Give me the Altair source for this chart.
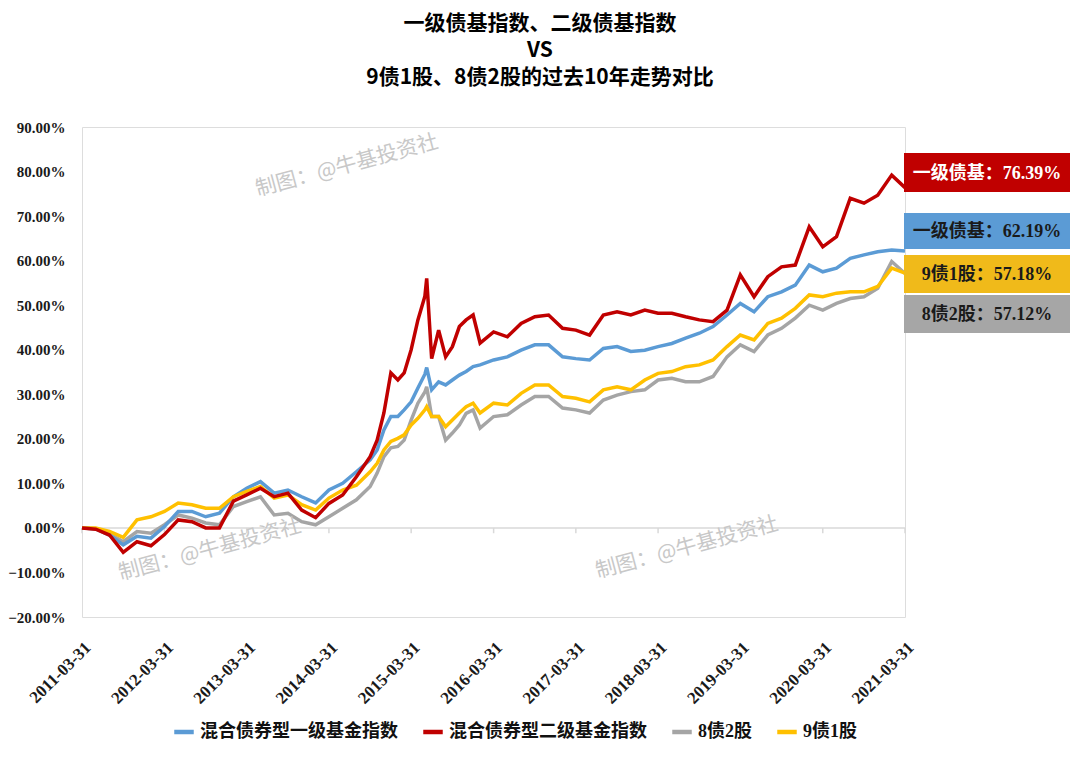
import altair as alt
import pandas as pd

# ---------------- data (% return) ----------------
dates = [
    "2011-03-31", "2011-05-31", "2011-07-31", "2011-09-30", "2011-11-30",
    "2012-01-31", "2012-03-31", "2012-05-31", "2012-07-31", "2012-09-30", "2012-11-30",
    "2013-01-31", "2013-03-31", "2013-05-31", "2013-07-31", "2013-09-30", "2013-11-30",
    "2014-01-31", "2014-03-31", "2014-05-31", "2014-07-31", "2014-09-30", "2014-10-31",
    "2014-11-30", "2014-12-31",
    "2015-01-31", "2015-02-28", "2015-03-31", "2015-04-30", "2015-05-31", "2015-06-08",
    "2015-06-30", "2015-07-31", "2015-08-31", "2015-09-30", "2015-10-31", "2015-11-30",
    "2015-12-31",
    "2016-01-31", "2016-03-31", "2016-05-31", "2016-07-31", "2016-09-30", "2016-11-30",
    "2017-01-31", "2017-03-31", "2017-05-31", "2017-07-31", "2017-09-30", "2017-11-30",
    "2018-01-31", "2018-03-31", "2018-05-31", "2018-07-31", "2018-09-30", "2018-11-30",
    "2019-01-31", "2019-03-31", "2019-05-31", "2019-07-31", "2019-09-30", "2019-11-30",
    "2020-01-31", "2020-03-31", "2020-05-31", "2020-07-31", "2020-09-30", "2020-11-30",
    "2021-01-31", "2021-03-31",
]

yiji = [  # 混合债券型一级基金指数
    0.0, -0.2, -1.6, -3.8, -1.9,
    -2.3, 0.3, 3.7, 3.7, 2.5, 3.3,
    7.0, 8.9, 10.4, 7.8, 8.5, 7.0,
    5.6, 8.5, 10.0, 12.6, 15.3, 17.5,
    22.0, 25.0,
    25.0, 26.5, 28.3, 31.4, 34.5, 36.0,
    31.0, 32.8, 32.1, 33.2, 34.3, 35.1,
    36.2,
    36.6, 37.7, 38.4, 39.9, 41.1, 41.1,
    38.4, 38.0, 37.7, 40.3, 40.7, 39.6,
    39.9, 40.7, 41.4, 42.6, 43.7, 45.2,
    47.8, 50.4, 48.5, 51.9, 53.0, 54.5,
    59.0, 57.5, 58.3, 60.5, 61.3, 62.0,
    62.4, 62.19,
]

erji = [  # 混合债券型二级基金指数
    0.0, -0.3, -1.6, -5.5, -3.1,
    -4.0, -1.5, 1.8, 1.4, 0.0, 0.0,
    6.0, 7.4, 8.9, 7.0, 7.8, 4.0,
    2.3, 5.5, 7.4, 11.5, 16.0, 19.7,
    25.8, 34.8,
    33.2, 34.8, 40.0, 46.7, 52.0, 56.0,
    38.0, 44.4, 38.4, 40.7, 45.2, 46.7,
    47.8,
    41.5, 44.0, 42.9, 45.9, 47.4, 47.8,
    44.8, 44.4, 43.3, 47.8, 48.5, 47.8,
    48.9, 48.2, 48.2, 47.4, 46.7, 46.3,
    48.9, 56.8, 51.9, 56.4, 58.6, 59.0,
    67.6, 63.1, 65.4, 74.0, 72.9, 74.7,
    79.2, 76.39,
]

zhai8gu2 = [  # 8债2股
    0.0, -0.2, -1.3, -3.1, -0.8,
    -1.2, 0.7, 2.9, 2.2, 1.1, 0.7,
    4.8, 5.9, 7.0, 2.9, 3.3, 1.4,
    0.7, 2.5, 4.4, 6.3, 9.3, 12.3,
    16.0, 18.0,
    18.3, 19.7, 24.2, 28.0, 30.5, 31.7,
    25.0, 25.0, 19.7, 21.3, 23.1, 25.7,
    26.5,
    22.4, 25.0, 25.4, 27.6, 29.5, 29.5,
    26.9, 26.5, 25.8, 28.7, 29.8, 30.6,
    31.0, 33.2, 33.6, 32.8, 32.8, 34.0,
    38.4, 41.1, 39.6, 43.3, 44.8, 47.1,
    50.0, 48.9, 50.4, 51.5, 51.9, 53.8,
    59.8, 57.12,
]

zhai9gu1 = [  # 9债1股
    0.0, 0.0, -0.8, -2.1, 1.8,
    2.5, 3.7, 5.6, 5.2, 4.4, 4.4,
    7.0, 8.2, 9.3, 6.7, 7.4, 5.2,
    4.0, 6.7, 8.5, 9.6, 12.6, 14.5,
    17.5, 19.4,
    20.1, 20.9, 23.1, 24.6, 26.5, 27.2,
    25.0, 25.0, 22.7, 24.2, 25.8, 27.2,
    28.0,
    25.8, 28.0, 27.6, 30.2, 32.1, 32.1,
    29.5, 29.1, 28.3, 31.0, 31.7, 31.0,
    33.2, 34.7, 35.1, 36.2, 36.6, 37.7,
    40.7, 43.3, 42.2, 45.9, 47.1, 49.3,
    52.3, 51.9, 52.7, 53.0, 53.0, 54.2,
    58.3, 57.18,
]

series_names = ["混合债券型一级基金指数", "混合债券型二级基金指数", "8债2股", "9债1股"]
series_colors = ["#5B9BD5", "#C00000", "#A5A5A5", "#FFC000"]

tick_dates = ["%d-03-31" % y for y in range(2011, 2022)]
y_ticks = list(range(-20, 100, 10))

end_labels = ["一级债基：76.39%", "一级债基：62.19%", "9债1股：57.18%", "8债2股：57.12%"]
end_fills = ["#C00000", "#5B9BD5", "#F0BA1A", "#A6A6A6"]
end_text_colors = ["#FFFFFF", "#1A1A1A", "#1A1A1A", "#1A1A1A"]

title_lines = ["一级债基指数、二级债基指数", "VS", "9债1股、8债2股的过去10年走势对比"]
watermark = "制图：@牛基投资社"

# ---------------- build table ----------------
draw_order = [
    ("8债2股", zhai8gu2),
    ("混合债券型一级基金指数", yiji),
    ("9债1股", zhai9gu1),
    ("混合债券型二级基金指数", erji),
]
rows = []
for name, vals in draw_order:
    for d, v in zip(dates, vals):
        rows.append({"date": d, "value": v, "series": name})
df = pd.DataFrame(rows)

W, H = 823, 490
SERIF = "Liberation Serif, 'Noto Sans CJK SC'"
CJK = "Noto Sans CJK SC"

x_scale = alt.Scale(
    type="utc",
    domain=[alt.DateTime(year=2011, month=3, date=31, utc=True),
            alt.DateTime(year=2021, month=3, date=31, utc=True)],
    nice=False,
)
y_scale = alt.Scale(domain=[-20, 90], nice=False)

lines = alt.Chart(df).mark_line(strokeWidth=3.5).encode(
    x=alt.X(
        "date:T", scale=x_scale, title=None,
        axis=alt.Axis(
            values=[alt.DateTime(year=y, month=3, date=31, utc=True) for y in range(2011, 2022)],
            labelExpr="utcFormat(datum.value, '%Y-%m-%d')", labelAngle=-45,
            labelFont="Liberation Serif", labelFontSize=17, labelFontWeight="bold",
            labelColor="#1A1A1A", labelPadding=22, domain=False, ticks=False,
            tickSize=0, grid=False, labelOverlap=False, labelFlush=False,
        ),
    ),
    y=alt.Y(
        "value:Q", scale=y_scale, title=None,
        axis=alt.Axis(
            values=y_ticks, labelExpr="format(datum.value, '.2f') + '%'",
            labelFont="Liberation Serif", labelFontSize=15, labelFontWeight="bold",
            labelColor="#1A1A1A", labelPadding=17, domain=False, ticks=False,
            tickSize=0, grid=False,
        ),
    ),
    color=alt.Color(
        "series:N",
        scale=alt.Scale(domain=series_names, range=series_colors),
        legend=alt.Legend(
            title=None, orient="none", legendX=90, legendY=593, direction="horizontal",
            columns=4, symbolType="stroke", symbolStrokeWidth=4.5, symbolSize=380,
            labelFont=SERIF, labelFontSize=18, labelFontWeight="bold",
            labelColor="#111111", columnPadding=16, labelOffset=4, labelLimit=400,
        ),
    ),
)

zero_line = alt.Chart(pd.DataFrame({"y": [0]})).mark_rule(
    color="#D9D9D9", strokeWidth=1.5
).encode(y=alt.Y("y:Q", scale=y_scale))

ticks = alt.Chart(pd.DataFrame({"date": tick_dates})).mark_rule(
    color="#D9D9D9", strokeWidth=1.5
).encode(
    x=alt.X("date:T", scale=x_scale),
    y=alt.datum(0),
    y2=alt.datum(-1.2),
)

layers = [zero_line, ticks, lines]

# title: three centred lines above the plot
for line, ty in zip(title_lines, [-103, -76, -49]):
    layers.append(
        alt.Chart(pd.DataFrame({"t": [line]})).mark_text(
            font=CJK, fontSize=21, fontWeight="bold", color="#000000",
            align="center", baseline="middle",
        ).encode(x=alt.value(458), y=alt.value(ty), text="t:N")
    )

# end-value boxes at the right
box_y = [(26, 65), (86, 122), (128, 166), (168, 206)]
for lab, fill, tc, (y0, y1) in zip(end_labels, end_fills, end_text_colors, box_y):
    d = pd.DataFrame({"t": [lab]})
    layers.append(
        alt.Chart(d).mark_rect(color=fill).encode(
            x=alt.value(822), x2=alt.value(988), y=alt.value(y0), y2=alt.value(y1)
        )
    )
    layers.append(
        alt.Chart(d).mark_text(
            font=SERIF, fontSize=18, fontWeight="bold", color=tc,
            align="center", baseline="middle",
        ).encode(x=alt.value(905), y=alt.value((y0 + y1) / 2 + 1), text="t:N")
    )

# watermarks
for wx, wy in [(265, 39), (128, 423), (605, 421)]:
    layers.append(
        alt.Chart(pd.DataFrame({"t": [watermark]})).mark_text(
            font=CJK, fontSize=21, color="#C8C8C8", angle=345,
            align="center", baseline="middle",
        ).encode(x=alt.value(wx), y=alt.value(wy), text="t:N")
    )

chart = alt.layer(*layers).properties(
    width=W, height=H,
    autosize=alt.AutoSizeParams(type="none"),
    padding={"left": 74, "top": 119, "right": 166, "bottom": 133},
).configure_view(stroke=None).configure(background="white")

chart.save("out.html", embed_options={"renderer": "svg", "actions": False})
